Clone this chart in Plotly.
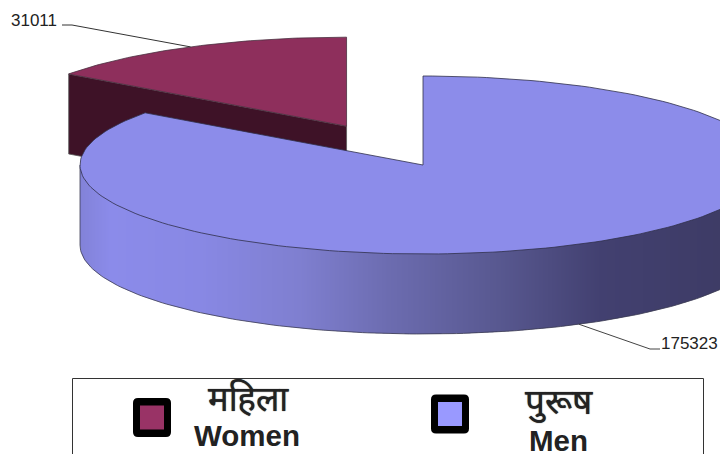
import math
import plotly.graph_objects as go

# Data
categories = ["Women", "Men"]
category_labels = ["महिला", "पुरूष"]
values = [31011, 175323]
slice_colors = ["#8e2f5c", "#8c8cea"]
legend_colors = ["#993366", "#9999ff"]
women_wall_color = "#3e1227"

# Pie geometry, in page pixels
CX, CY = 423.0, 165.0
RX, RY = 343.0, 89.0
DEPTH = 80.0
EXPLODE = 0.49

# Shading of the outer wall of the large slice: (position across the pie, rgb)
WALL_STOPS = [
    (0.00, (130, 130, 216)),
    (0.045, (139, 139, 234)),
    (0.175, (136, 136, 228)),
    (0.32, (127, 127, 208)),
    (0.45, (108, 108, 176)),
    (0.61, (88, 88, 144)),
    (0.76, (66, 64, 112)),
    (1.00, (60, 58, 98)),
]

total = sum(values)
women_sweep = 360.0 * values[0] / total
men_sweep = 360.0 * values[1] / total


def rim(cx, cy, deg):
    """Point on the elliptical rim; 0 degrees is twelve o'clock, clockwise."""
    t = math.radians(deg)
    return cx + RX * math.sin(t), cy - RY * math.cos(t)


def front_y(x):
    """Height of the front half of the rim above column x."""
    u = max(-1.0, min(1.0, (x - CX) / RX))
    return CY + RY * math.sqrt(1 - u * u)


def wall_color(x):
    f = (x - (CX - RX)) / (2 * RX)
    for (f0, c0), (f1, c1) in zip(WALL_STOPS, WALL_STOPS[1:]):
        if f <= f1:
            k = (f - f0) / (f1 - f0)
            return "rgb(%d,%d,%d)" % tuple(round(a + (b - a) * k) for a, b in zip(c0, c1))
    return "rgb(%d,%d,%d)" % WALL_STOPS[-1][1]


def polygon(xs, ys, fill, line_color=None, line_width=0):
    return go.Scatter(
        x=xs, y=ys, mode="lines", fill="toself", fillcolor=fill,
        line=dict(color=line_color or fill, width=line_width),
        hoverinfo="skip", showlegend=False,
    )


def rounded_rect(x0, y0, x1, y1, r):
    """SVG path of a rectangle with rounded corners."""
    return (
        f"M {x0 + r} {y0} L {x1 - r} {y0} Q {x1} {y0} {x1} {y0 + r} "
        f"L {x1} {y1 - r} Q {x1} {y1} {x1 - r} {y1} "
        f"L {x0 + r} {y1} Q {x0} {y1} {x0} {y1 - r} "
        f"L {x0} {y0 + r} Q {x0} {y0} {x0 + r} {y0} Z"
    )


fig = go.Figure()

# Exploded small slice: pulled out along its own mid angle
women_start = men_sweep
women_mid = women_start + women_sweep / 2
mx, my = rim(0, 0, women_mid)
wx, wy = CX + EXPLODE * mx, CY + EXPLODE * my

# Its cut face, then the top
left_x, left_y = rim(wx, wy, women_start)
fig.add_trace(polygon(
    [left_x, wx, wx, left_x, left_x],
    [left_y, wy, wy + DEPTH, left_y + DEPTH, left_y],
    women_wall_color, "#5a5a5a", 0.8,
))
arc = [rim(wx, wy, women_start + women_sweep * i / 60) for i in range(61)]
fig.add_trace(polygon(
    [wx] + [p[0] for p in arc] + [wx],
    [wy] + [p[1] for p in arc] + [wy],
    slice_colors[0], "#4a3040", 0.8,
))

# Outer wall of the large slice, one pixel column at a time so no seams show
for col in range(int(CX - RX), 720):
    x0, x1 = max(col, CX - RX), col + 1
    y0, y1 = front_y(x0), front_y(x1)
    fig.add_trace(polygon(
        [x0, x1, x1, x0, x0],
        [CY, CY, y1 + DEPTH, y0 + DEPTH, CY],
        wall_color((x0 + x1) / 2),
    ))

# Wall outline along the bottom edge and up the left side
low = [rim(CX, CY, 90 + 180 * i / 160) for i in range(161)]
fig.add_trace(go.Scatter(
    x=[p[0] for p in low] + [CX - RX],
    y=[p[1] + DEPTH for p in low] + [CY],
    mode="lines",
    line=dict(color="#3a3a50", width=0.8), hoverinfo="skip", showlegend=False,
))

# Top of the large slice
arc = [rim(CX, CY, men_sweep * i / 200) for i in range(201)]
fig.add_trace(polygon(
    [CX] + [p[0] for p in arc] + [CX],
    [CY] + [p[1] for p in arc] + [CY],
    slice_colors[1], "#30304a", 0.8,
))

# Leader lines from each slice's mid angle to its value label
lx, ly = rim(wx, wy, women_mid)
fig.add_trace(go.Scatter(
    x=[lx, 72, 62], y=[ly, 25, 25], mode="lines",
    line=dict(color="#333333", width=1), hoverinfo="skip", showlegend=False,
))
lx, ly = rim(CX, CY, men_sweep / 2)
fig.add_trace(go.Scatter(
    x=[lx, 650, 660], y=[ly + DEPTH, 349, 349], mode="lines",
    line=dict(color="#444444", width=1), hoverinfo="skip", showlegend=False,
))

# Legend frame and keys
fig.add_shape(type="rect", x0=72.5, x1=703.5, y0=378.5, y1=470,
              line=dict(color="#333333", width=1), fillcolor="rgba(0,0,0,0)")
for kx, ky, color in zip([152, 450], [417.5, 414], legend_colors):
    fig.add_shape(type="path", path=rounded_rect(kx - 19, ky - 19.5, kx + 19, ky + 19.5, 5),
                  fillcolor="#000000", line=dict(width=0))
    fig.add_shape(type="rect", x0=kx - 12, x1=kx + 12, y0=ky - 12, y1=ky + 12,
                  fillcolor=color, line=dict(width=0))

notes = [
    dict(x=59, y=20, text=str(values[0]), size=17, anchor="right", kind="value"),
    dict(x=720, y=343, text=str(values[1]), size=17, anchor="right", kind="value"),
    dict(x=248, y=398, text=category_labels[0], size=34.5, anchor="center", kind="script"),
    dict(x=247, y=435, text=categories[0], size=29.5, anchor="center", kind="name"),
    dict(x=559, y=402, text=category_labels[1], size=35, anchor="center", kind="script"),
    dict(x=558, y=440, text=categories[1], size=29.5, anchor="center", kind="name"),
]
for n in notes:
    font = dict(family="Liberation Sans, Noto Sans, Arial, sans-serif", size=n["size"], color="#222222")
    if n["kind"] == "script":
        # A soft shadow thickens the thin Devanagari strokes a little
        font["shadow"] = "0 0 1px #222222"
    fig.add_annotation(
        x=n["x"], y=n["y"], text=f"<b>{n['text']}</b>" if n["kind"] == "name" else n["text"],
        showarrow=False, xanchor=n["anchor"], yanchor="middle", font=font,
    )

fig.update_layout(
    width=720, height=454, margin=dict(l=0, r=0, t=0, b=0),
    paper_bgcolor="white", plot_bgcolor="white", showlegend=False,
    xaxis=dict(range=[0, 720], visible=False, fixedrange=True),
    yaxis=dict(range=[454, 0], visible=False, fixedrange=True),
)
fig.write_html("out.html")
